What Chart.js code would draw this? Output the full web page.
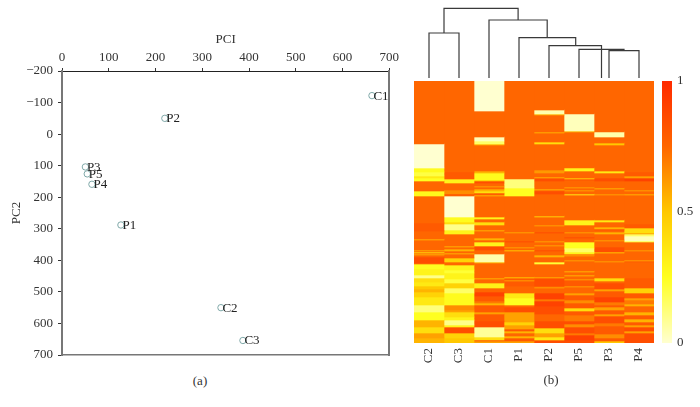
<!DOCTYPE html>
<html>
<head>
<meta charset="utf-8">
<title>PCA and heatmap</title>
<script src="https://cdn.jsdelivr.net/npm/chart.js@4/dist/chart.umd.min.js"></script>
<style>
    html, body { margin: 0; padding: 0; background: #fff; }
    body { position: relative; width: 700px; height: 407px; overflow: hidden; font-family: "Liberation Serif", serif; color: #333; }
    canvas { position: absolute; }
    .caption { position: absolute; font-size: 13px; transform: translateX(-50%); }
</style>
</head>
<body>
<canvas id="pcaChart" style="left:0;top:0"></canvas>
<canvas id="treeChart" style="left:414px;top:0"></canvas>
<canvas id="heatChart" style="left:400px;top:70px"></canvas>
<canvas id="barChart" style="left:655px;top:60px"></canvas>
<div class="caption" style="left:200px;top:373px">(a)</div>
<div class="caption" style="left:551px;top:372px">(b)</div>
<script>
// PCA scatter
const sampleNames = ['C1', 'P2', 'P3', 'P5', 'P4', 'P1', 'C2', 'C3'];
const pc1Values = [663, 220, 50, 54, 64, 126, 340, 387];
const pc2Values = [-122, -50, 104, 126, 159, 288, 550, 654];

// heatmap, columns in dendrogram order
const heatColumns = ['C2', 'C3', 'C1', 'P1', 'P2', 'P5', 'P3', 'P4'];
const heatRows = 262;
// each band: [first row, value], a band runs until the next one starts
const bandsC2 = [[0,.75],[63,0],[87,.27],[91,.2],[95,.35],[97,.25],[100,.75],[110,.28],[115,.75],[142,.8],[150,.75],[158,.55],[159,.75],[169,.55],[170,.75],[171,.4],[172,.75],[173,.55],[174,.75],[176,.85],[182,.75],[183,.25],[188,.3],[194,.1],[197,.4],[201,.35],[205,.5],[208,.55],[211,.45],[216,.35],[224,.12],[231,.25],[239,.55],[246,.4],[252,.6],[257,.55]];
const bandsC3 = [[0,.75],[91,.8],[98,.3],[102,.75],[109,.65],[113,.85],[114,.75],[115,0],[136,.27],[141,.4],[143,.1],[149,.3],[153,.75],[165,.55],[166,.75],[168,.55],[170,.75],[172,.55],[173,.75],[177,.45],[181,.75],[184,.3],[189,.22],[192,.3],[198,.2],[202,.45],[207,.15],[212,.27],[224,.65],[229,.6],[231,.4],[236,.3],[239,.1],[244,.3],[246,.85],[252,.45],[257,.5]];
const bandsC1 = [[0,0],[30,.75],[56,.03],[60,.15],[63,.55],[64,.75],[90,.55],[92,.27],[99,.5],[100,.85],[102,.75],[105,.6],[106,.75],[108,.55],[110,.4],[112,.85],[113,.75],[114,.55],[115,.75],[136,.3],[138,.75],[141,.4],[144,.75],[149,.55],[150,.75],[157,.55],[159,.75],[161,.3],[165,.85],[169,.75],[173,.05],[181,.55],[182,.75],[197,.55],[198,.75],[202,.32],[207,.75],[211,.9],[215,.8],[220,.7],[222,.55],[224,.8],[231,.6],[233,.8],[240,.85],[246,.08],[256,.4],[259,.85],[260,.6]];
const bandsP1 = [[0,.75],[98,.12],[107,.25],[115,.75],[151,.6],[152,.75],[160,.85],[161,.75],[166,.6],[167,.75],[169,.5],[170,.75],[196,.5],[197,.8],[199,.6],[200,.8],[205,.75],[212,.35],[217,.25],[224,.75],[226,.85],[231,.6],[241,.45],[244,.6],[248,.8],[250,.55],[252,.75],[255,.55],[257,.8],[260,.6]];
const bandsP2 = [[0,.75],[29,.05],[33,.55],[34,.75],[51,.55],[52,.75],[61,.4],[63,.75],[89,.62],[92,.75],[96,.55],[97,.85],[100,.75],[108,.55],[109,.75],[110,.85],[113,.75],[135,.45],[136,.75],[144,.6],[145,.75],[151,.85],[152,.75],[160,.6],[161,.75],[164,.6],[165,.75],[169,.85],[170,.75],[174,.55],[176,.75],[181,.22],[183,.75],[196,.55],[197,.85],[205,.75],[206,.6],[207,.75],[212,.9],[218,.7],[220,.9],[225,.85],[233,.75],[240,.85],[247,.4],[252,.6],[256,.35],[259,.85]];
const bandsP5 = [[0,.75],[33,.03],[50,.55],[51,.75],[87,.3],[90,.75],[97,.45],[98,.85],[99,.75],[106,.6],[107,.75],[109,.6],[110,.75],[113,.35],[114,.75],[139,.3],[144,.75],[151,.6],[152,.75],[156,.85],[157,.75],[161,.25],[167,.15],[171,.3],[173,.75],[174,.6],[175,.75],[179,.6],[180,.75],[190,.55],[191,.75],[194,.55],[195,.75],[198,.6],[199,.8],[205,.6],[206,.75],[212,.6],[214,.8],[219,.65],[222,.8],[227,.4],[230,.8],[234,.7],[240,.85],[243,.65],[246,.85],[252,.7],[254,.9],[259,.85]];
const bandsP3 = [[0,.75],[51,.05],[56,.75],[62,.5],[64,.75],[90,.35],[92,.75],[97,.85],[100,.75],[107,.55],[108,.75],[113,.6],[114,.75],[139,.35],[141,.75],[146,.55],[148,.85],[149,.75],[151,.55],[153,.75],[159,.6],[160,.75],[166,.85],[171,.5],[172,.75],[180,.6],[181,.75],[197,.4],[200,.75],[202,.85],[208,.6],[210,.8],[216,.9],[221,.7],[224,.8],[226,.6],[229,.8],[233,.6],[235,.85],[242,.7],[245,.8],[253,.65],[257,.8],[260,.5]];
const bandsP4 = [[0,.75],[91,.8],[95,.6],[97,.9],[100,.75],[109,.6],[110,.75],[113,.55],[114,.75],[143,.8],[147,.4],[152,.6],[153,.15],[155,.03],[160,.2],[161,.75],[169,.6],[170,.75],[179,.6],[180,.8],[181,.75],[197,.8],[207,.45],[212,.8],[217,.6],[219,.7],[223,.55],[225,.75],[231,.55],[234,.8],[238,.55],[241,.8],[244,.6],[246,.85],[250,.6],[252,.85]];
const columnBands = [bandsC2, bandsC3, bandsC1, bandsP1, bandsP2, bandsP5, bandsP3, bandsP4];

// dendrogram links: [left column, right column, left height, right height, top height]
const treeLinks = [
    [0, 1, 0, 0, 45],
    [6, 7, 0, 0, 27.3],
    [5, 6.5, 0, 27.3, 28.7],
    [4, 5.75, 0, 0, 32.3],
    [3, 4.89, 0, 32.3, 40.3],
    [2, 3.94, 0, 40.3, 58],
    [0.5, 2.97, 45, 58, 69.7]
];

// colour scale stops: value and colour
const scaleValues = [0, 0.25, 0.5, 0.75, 1];
const scaleColors = [[255, 255, 208], [255, 255, 32], [255, 200, 0], [255, 102, 0], [255, 42, 0]];
const scaleTicks = [0, 0.5, 1];

const serif = '"Liberation Serif", serif';
const textColor = '#333';

Chart.defaults.animation = false;
Chart.defaults.responsive = false;
Chart.defaults.font.family = serif;
Chart.defaults.font.size = 13;
Chart.defaults.color = textColor;
Chart.defaults.plugins.legend.display = false;
Chart.defaults.plugins.tooltip.enabled = false;

function setSize(id, w, h) {
    const canvas = document.getElementById(id);
    canvas.width = w;
    canvas.height = h;
    return canvas.getContext('2d');
}

function heatColor(value) {
    let i = 0;
    while (i < scaleValues.length - 2 && value > scaleValues[i + 1]) i++;
    const t = (value - scaleValues[i]) / (scaleValues[i + 1] - scaleValues[i]);
    const c = scaleColors[i].map((v, k) => Math.round(v + (scaleColors[i + 1][k] - v) * t));
    return `rgb(${c[0]},${c[1]},${c[2]})`;
}

const pointLabels = {
    id: 'pointLabels',
    afterDatasetsDraw(chart) {
        const ctx = chart.ctx;
        ctx.save();
        ctx.font = `13px ${serif}`;
        ctx.fillStyle = '#222';
        ctx.textBaseline = 'middle';
        chart.getDatasetMeta(0).data.forEach((pt, i) => {
            ctx.fillText(sampleNames[i], pt.x + 1.5, pt.y + 0.5);
        });
        ctx.restore();
    }
};

new Chart(setSize('pcaChart', 402, 370), {
    type: 'scatter',
    data: {
        datasets: [{
            data: pc1Values.map((x, i) => ({ x: x, y: pc2Values[i] })),
            pointRadius: 3.2,
            pointBorderWidth: 1,
            pointBorderColor: '#7fa8a8',
            pointBackgroundColor: 'rgba(0,0,0,0)'
        }]
    },
    options: {
        layout: { padding: { left: 0, top: 0, right: 9, bottom: 15 } },
        scales: {
            x: {
                position: 'top', min: 0, max: 700,
                ticks: { stepSize: 100, maxRotation: 0, padding: 3 },
                grid: { drawOnChartArea: false, tickLength: 3, tickColor: '#333' },
                border: { color: '#222', width: 1 },
                title: { display: true, text: 'PCI', font: { size: 13 }, padding: { top: 32, bottom: 0 } },
                afterFit: s => { s.height = 71; }
            },
            y: {
                position: 'left', reverse: true, min: -200, max: 700,
                ticks: { stepSize: 100, padding: 5, callback: v => String(v).replace('-', '\u2212') },
                grid: { drawOnChartArea: false, tickLength: 4, tickColor: '#333' },
                border: { color: '#777', width: 2 },
                title: { display: true, text: 'PC2', font: { size: 13 }, padding: { top: 9, bottom: 0 } },
                afterFit: s => { s.width = 62; }
            },
            x2: {
                position: 'bottom', min: 0, max: 700,
                ticks: { display: false },
                grid: { display: false },
                border: { color: '#777', width: 1.5 },
                afterFit: s => { s.height = 0; }
            },
            y2: {
                position: 'right', min: 0, max: 1,
                ticks: { display: false },
                grid: { display: false },
                border: { color: '#777', width: 2 },
                afterFit: s => { s.width = 0; }
            }
        }
    },
    plugins: [pointLabels]
});

new Chart(setSize('treeChart', 240, 78), {
    type: 'scatter',
    data: {
        datasets: treeLinks.map(([x1, x2, h1, h2, top]) => ({
            data: [{ x: x1, y: h1 }, { x: x1, y: top }, { x: x2, y: top }, { x: x2, y: h2 }],
            showLine: true,
            pointRadius: 0,
            borderColor: '#3a3a3a',
            borderWidth: 1.2
        }))
    },
    options: {
        layout: { padding: 0 },
        scales: {
            x: { display: false, min: -0.5, max: 7.5 },
            y: { display: false, min: 0, max: 78 }
        }
    }
});

const heatDatasets = [];
columnBands.forEach((bands, col) => {
    bands.forEach(([start, value], i) => {
        const end = i + 1 < bands.length ? bands[i + 1][0] : heatRows;
        const data = heatColumns.map((_, k) => (k === col ? end - start : null));
        heatDatasets.push({ data: data, backgroundColor: heatColor(value), borderWidth: 0, barPercentage: 1, categoryPercentage: 1 });
    });
});

new Chart(setSize('heatChart', 270, 320), {
    type: 'bar',
    data: { labels: heatColumns, datasets: heatDatasets },
    options: {
        layout: { padding: { left: 14, right: 16, top: 11, bottom: 0 } },
        scales: {
            x: {
                stacked: true,
                ticks: { minRotation: 90, maxRotation: 90, padding: 5 },
                grid: { display: false, drawTicks: false },
                border: { display: false },
                afterFit: s => { s.height = 47; }
            },
            y: { display: false, stacked: true, reverse: true, min: 0, max: heatRows }
        }
    }
});

new Chart(setSize('barChart', 45, 300), {
    type: 'bar',
    data: {
        labels: [''],
        datasets: [{
            data: [[0, 1]],
            borderWidth: 0,
            barPercentage: 1,
            categoryPercentage: 1,
            backgroundColor: context => {
                const area = context.chart.chartArea;
                if (!area) return heatColor(0.5);
                const g = context.chart.ctx.createLinearGradient(0, area.bottom, 0, area.top);
                scaleValues.forEach(v => g.addColorStop(v, heatColor(v)));
                return g;
            }
        }]
    },
    options: {
        layout: { padding: { left: 7, right: 0, top: 21, bottom: 17 } },
        scales: {
            x: { display: false },
            y: {
                position: 'right', min: 0, max: 1,
                afterBuildTicks: s => { s.ticks = scaleTicks.map(v => ({ value: v })); },
                ticks: { padding: 5, callback: v => String(v) },
                grid: { display: false, drawTicks: false },
                border: { display: false },
                afterFit: s => { s.width = 28; }
            }
        }
    }
});
</script>
</body>
</html>
